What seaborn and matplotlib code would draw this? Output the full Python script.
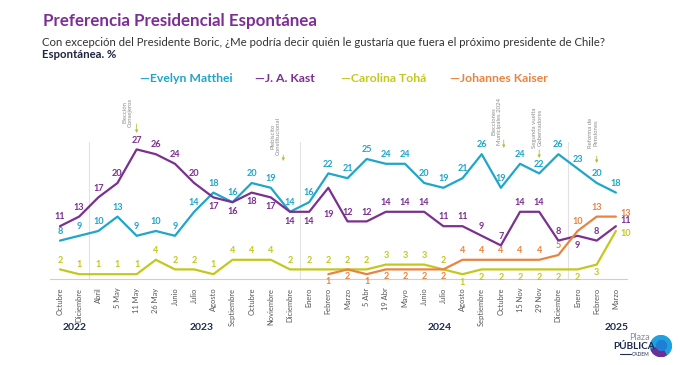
import numpy as np
import pandas as pd
import matplotlib
matplotlib.use("Agg")
import matplotlib.pyplot as plt
import seaborn as sns
from matplotlib.patches import Circle, Wedge

# ---------------- data ----------------
periods = ["Octubre", "Diciembre", "Abril", "5 May", "11 May", "26 May", "Junio", "Julio",
           "Agosto", "Septiembre", "Octubre", "Noviembre", "Diciembre", "Enero", "Febrero",
           "Marzo", "5 Abr", "19 Abr", "Mayo", "Junio", "Julio", "Agosto", "Septiembre",
           "Octubre", "15 Nov", "29 Nov", "Diciembre", "Enero", "Febrero", "Marzo"]
years = ["2022", "2023", "2024", "2025"]
candidates = ["Evelyn Matthei", "J. A. Kast", "Carolina Tohá", "Johannes Kaiser"]
matthei = [8, 9, 10, 13, 9, 10, 9, 14, 18, 16, 20, 19, 14, 16, 22, 21, 25, 24, 24, 20,
           19, 21, 26, 19, 24, 22, 26, 23, 20, 18]
kast = [11, 13, 17, 20, 27, 26, 24, 20, 17, 16, 18, 17, 14, 14, 19, 12, 12, 14, 14, 14,
        11, 11, 9, 7, 14, 14, 8, 9, 8, 11]
toha = [2, 1, 1, 1, 1, 4, 2, 2, 1, 4, 4, 4, 2, 2, 2, 2, 2, 3, 3, 3,
        2, 1, 2, 2, 2, 2, 2, 2, 3, 10]
kaiser = [np.nan] * 14 + [1, 2, 1, 2, 2, 2, 2, 4, 4, 4, 4, 4, 5, 10, 13, 13]
events = ["Elección\nConsejeros", "Plebiscito\nConstitucional", "Elecciones\nMunicipales 2024",
          "Segunda vuelta\nGobernadores", "Reforma de\nPensiones"]

# ---------------- styling / placement ----------------
colors = {"Evelyn Matthei": "#1fa6c8", "J. A. Kast": "#7b2f90",
          "Carolina Tohá": "#c3c81e", "Johannes Kaiser": "#e8843e"}
# label placement: a = above, b = below, r = right
place = {
    "Evelyn Matthei": "a" * 30,
    "J. A. Kast": "a" * 8 + "b" * 7 + "a" * 11 + "a" + "b" + "a" + "r",
    "Carolina Tohá": "a" * 21 + "b" * 8 + "r",
    "Johannes Kaiser": "-" * 14 + "b" * 7 + "a" * 8 + "r",
}
right_dy = {"Evelyn Matthei": 0, "J. A. Kast": 4, "Carolina Tohá": -1.5, "Johannes Kaiser": 2.5}
below_dy = {"Evelyn Matthei": -3.5, "J. A. Kast": -3.5, "Carolina Tohá": -2.5, "Johannes Kaiser": -2.0}
extra_below = {("J. A. Kast", 14): -16}
# event annotation geometry (pixels): text right edge, text bottom, arrow x(data), arrow top/bottom px
event_geo = [(133, 127, 4.0, 124, 133),
             (281, 155, 11.65, 155, 161),
             (502, 145, 23.15, 140, 148),
             (543, 148, 25.0, 150, 158),
             (599, 148, 28.0, 156, 163)]

W, H = 680, 365
sns.set_theme(style="white")
plt.rcParams["font.family"] = ["Lato", "DejaVu Sans"]

fig = plt.figure(figsize=(W / 100, H / 100), dpi=100)
fig.patch.set_facecolor("white")

X0PX, X1PX = 50, 627
Y0PX, Y1PX = 279, 135
ax = fig.add_axes([X0PX / W, 1 - Y0PX / H, (X1PX - X0PX) / W, (Y0PX - Y1PX) / H])
ax.set_facecolor("none")
ax.set_xlim(-0.52, 29.58)
ax.set_ylim(0, 30)

def py2d(py):
    return (Y0PX - py) / (Y0PX - Y1PX) * 30

idx = np.arange(len(periods))
df = pd.concat([
    pd.DataFrame({"idx": idx, "valor": vals, "candidato": name})
    for name, vals in zip(candidates, [matthei, kast, toha, kaiser])
], ignore_index=True)

# year separators
for xs in [1.5, 12.5, 26.5]:
    ax.plot([xs, xs], [0, py2d(142)], color="#e2e2e2", lw=0.8, zorder=0)

sns.lineplot(data=df, x="idx", y="valor", hue="candidato", palette=colors,
             hue_order=candidates, legend=False, linewidth=1.6, ax=ax, zorder=3)
for ln in ax.lines:
    ln.set_solid_joinstyle("round")
    ln.set_solid_capstyle("round")

# data labels
for name, vals in zip(candidates, [matthei, kast, toha, kaiser]):
    for i, v in enumerate(vals):
        p = place[name][i]
        if p == "-" or np.isnan(v):
            continue
        if p == "a":
            off, ha, va = (0, 3.5), "center", "bottom"
        elif p == "b":
            off, ha, va = (0, extra_below.get((name, i), below_dy[name])), "center", "top"
        else:
            off, ha, va = (3, right_dy[name]), "left", "center"
        ax.annotate(f"{int(v)}", xy=(i, v), xytext=off, textcoords="offset points",
                    ha=ha, va=va, fontsize=6.6, fontweight="bold", color=colors[name],
                    zorder=5)

# axes styling
for s in ["top", "right", "left"]:
    ax.spines[s].set_visible(False)
ax.spines["bottom"].set_color("#cfcfcf")
ax.spines["bottom"].set_linewidth(0.8)
ax.set_yticks([])
ax.set_xticks(idx)
ax.set_xticklabels(periods, rotation=90, fontsize=5.4, color="#555555")
ax.tick_params(axis="x", length=2.5, width=0.6, color="#cfcfcf", pad=5, direction="inout")
ax.set_xlabel("")
ax.set_ylabel("")

# event annotations
for label, (rx, by, ax_x, at, ab) in zip(events, event_geo):
    fig.text(rx / W, 1 - by / H, label, rotation=90, ha="right", va="bottom",
             fontsize=4.3, color="#8a8a8a", multialignment="center")
    ax.annotate("", xy=(ax_x, py2d(ab)), xytext=(ax_x, py2d(at)),
                arrowprops=dict(arrowstyle="-|>", color="#b9bd3a", lw=0.6,
                                mutation_scale=4, shrinkA=0, shrinkB=0),
                annotation_clip=False)

# title, subtitle
fig.text(43 / W, 1 - 21 / H, "Preferencia Presidencial Espontánea", fontsize=12.2,
         fontweight="bold", color="#7d2e95", va="center", ha="left")
fig.text(42 / W, 1 - 42 / H,
         "Con excepción del Presidente Boric, ¿Me podría decir quién le gustaría que fuera el próximo presidente de Chile?",
         fontsize=8.2, color="#333333", va="center", ha="left")
fig.text(42 / W, 1 - 55 / H, "Espontánea. %", fontsize=8.2, fontweight="bold",
         color="#1d2540", va="center", ha="left")

# legend
leg_x = [140, 255, 341, 450]
for name, lx in zip(candidates, leg_x):
    fig.text(lx / W, 1 - 79 / H, "—" + name, fontsize=8.8, fontweight="bold",
             color=colors[name], va="center", ha="left")

# years
for yl, yx in zip(years, [75, 202, 440, 617]):
    fig.text(yx / W, 1 - 328 / H, yl, fontsize=7.5, fontweight="bold", color="#1d2b4f",
             ha="center", va="center")

# logo
fig.text(639 / W, 1 - 337 / H, "Plaza", fontsize=6.5, color="#8a8fa0", ha="center", va="center")
fig.text(634 / W, 1 - 346.5 / H, "PÚBLICA", fontsize=7.2, fontweight="bold", color="#1d2b4f",
         ha="center", va="center")
fig.text(641 / W, 1 - 354 / H, "CADEM", fontsize=3.5, color="#1d2b4f", ha="center", va="center")
fig.add_artist(plt.Line2D([620 / W, 631 / W], [1 - 354 / H, 1 - 354 / H], color="#1d2b4f", lw=0.8))
logo_ax = fig.add_axes([650 / W, 1 - 357 / H, 22 / W, 22 / H])
logo_ax.set_xlim(-1, 1)
logo_ax.set_ylim(-1, 1)
logo_ax.set_aspect("equal")
logo_ax.axis("off")
logo_ax.add_patch(Circle((0, 0), 0.95, color="#1fa0e0"))
logo_ax.add_patch(Wedge((0, 0), 0.95, 200, 300, width=0.45, color="#6b2f95"))
logo_ax.add_patch(Circle((0.05, 0.05), 0.45, color="#1f7fd6"))

fig.savefig("out.png", dpi=100, facecolor="white")
